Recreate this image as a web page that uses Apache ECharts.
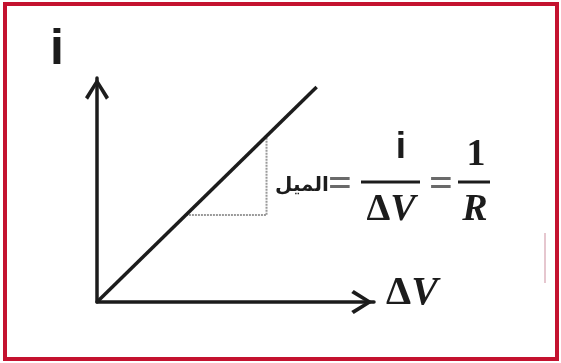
<!DOCTYPE html>
<html>
<head>
<meta charset="utf-8">
<script src="https://cdn.jsdelivr.net/npm/echarts@6/dist/echarts.min.js"></script>
<style>
html,body{margin:0;padding:0;background:#fff;}
#c{width:561px;height:363px;}
</style>
</head>
<body>
<div id="c"></div>
<script>
// Data
const lineX = [0, 7.93];
const lineY = [0, 9.6];
const slopeX = [3.21, 6.12, 6.12];
const slopeY = [3.88, 3.88, 7.41];
const yAxisName = 'i';
const xAxisName = 'ΔV';
const slopeWord = 'الميل';
const numerator1 = 'i';
const denominator1 = 'ΔV';
const numerator2 = '1';
const denominator2 = 'R';

const chevron = 'path://M12,0 L24,19 L21,21.5 L12,6.5 L3,21.5 L0,19 Z';
const ink = '#1c1c1c';

const chart = echarts.init(document.getElementById('c'), null, {renderer: 'canvas'});

function pairs(xs, ys) { return xs.map((x, i) => [x, ys[i]]); }

function deltaV(x, y, size) {
  return {
    type: 'text', x: x, y: y, z: 10,
    style: {
      text: '{d|Δ}{v|V}',
      align: 'center', verticalAlign: 'middle',
      fill: ink,
      rich: {
        d: {font: 'bold ' + size + 'px "Liberation Serif"', fill: ink},
        v: {font: 'italic bold ' + size + 'px "Liberation Serif"', fill: ink}
      }
    }
  };
}

chart.setOption({
  animation: false,
  backgroundColor: '#fff',
  grid: {left: 97, right: 187, top: 78, bottom: 61},
  xAxis: {
    type: 'value', min: 0, max: 10,
    splitLine: {show: false}, axisTick: {show: false}, axisLabel: {show: false},
    axisLine: {show: true, symbol: ['none', chevron], symbolSize: [24, 24], symbolOffset: [0, -12],
      lineStyle: {color: ink, width: 3.5}}
  },
  yAxis: {
    type: 'value', min: 0, max: 10,
    splitLine: {show: false}, axisTick: {show: false}, axisLabel: {show: false},
    axisLine: {show: true, symbol: ['none', chevron], symbolSize: [24, 22], symbolOffset: [0, -11],
      lineStyle: {color: ink, width: 3.5}}
  },
  series: [
    {
      type: 'line', data: pairs(lineX, lineY), showSymbol: false, symbol: 'none',
      lineStyle: {color: ink, width: 3.5}, z: 5
    },
    {
      type: 'line', data: pairs(slopeX, slopeY), showSymbol: false, symbol: 'none',
      lineStyle: {color: '#9a9a9a', width: 2, type: [2, 1]}, z: 3
    }
  ],
  graphic: [
    {type: 'rect', shape: {x: 5, y: 4, width: 552, height: 355},
      style: {fill: 'none', stroke: '#c4122f', lineWidth: 4}},
    {type: 'line', shape: {x1: 545, y1: 233, x2: 545, y2: 283},
      style: {stroke: '#e6c7cf', lineWidth: 2}},
    {type: 'text', x: 57, y: 50, style: {text: yAxisName, font: 'bold 50px "Liberation Sans"', fill: ink, align: 'center', verticalAlign: 'middle'}},
    deltaV(412, 294, 40),
    {type: 'text', x: 302, y: 186, style: {text: slopeWord, font: 'bold 20px "DejaVu Sans"', fill: ink, align: 'center', verticalAlign: 'middle'}},
    {type: 'text', x: 340, y: 185, style: {text: '=', font: 'bold 42px "Liberation Serif"', fill: '#6a6a6a', align: 'center', verticalAlign: 'middle'}},
    {type: 'line', shape: {x1: 361, y1: 182, x2: 420, y2: 182}, style: {stroke: ink, lineWidth: 3}},
    {type: 'text', x: 401, y: 148, style: {text: numerator1, font: 'bold 37px "Liberation Sans"', fill: ink, align: 'center', verticalAlign: 'middle'}},
    deltaV(391, 210, 38),
    {type: 'text', x: 441, y: 185, style: {text: '=', font: 'bold 42px "Liberation Serif"', fill: '#6a6a6a', align: 'center', verticalAlign: 'middle'}},
    {type: 'line', shape: {x1: 458, y1: 182, x2: 490, y2: 182}, style: {stroke: ink, lineWidth: 3}},
    {type: 'text', x: 476, y: 155, style: {text: numerator2, font: 'bold 38px "Liberation Serif"', fill: ink, align: 'center', verticalAlign: 'middle'}},
    {type: 'text', x: 475, y: 210, style: {text: denominator2, font: 'italic bold 38px "Liberation Serif"', fill: ink, align: 'center', verticalAlign: 'middle'}}
  ]
});
</script>
</body>
</html>
